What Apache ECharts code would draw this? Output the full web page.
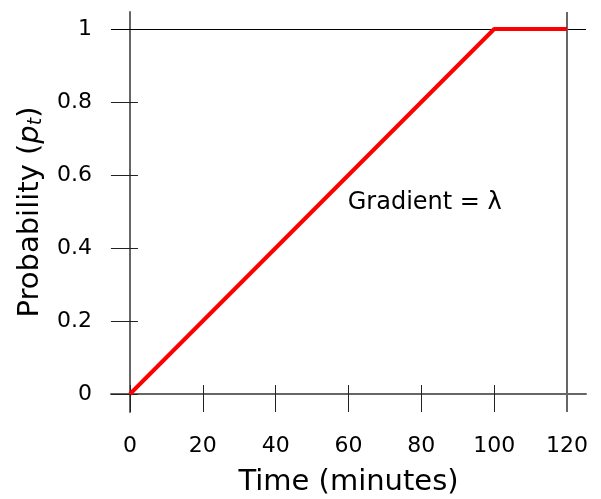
<!DOCTYPE html>
<html>
<head>
<meta charset="utf-8">
<script src="https://cdn.jsdelivr.net/npm/echarts@6/dist/echarts.min.js"></script>
<style>html,body{margin:0;padding:0;background:#fff;}#c{width:601px;height:499px;}</style>
</head>
<body>
<div id="c"></div>
<script>
// ---- data ----
const timeMinutes = [0, 100, 120];
const probability = [0, 1, 1];
const xTicks = [0, 20, 40, 60, 80, 100, 120];
const yTicks = [0, 0.2, 0.4, 0.6, 0.8, 1];
const xRange = [-5.2, 125.2];
const yRange = [-0.0493, 1.0466];
const annotationText = 'Gradient = λ';
const annotationAt = [59.8, 0.525];
const xTitle = 'Time (minutes)';

const FONT = 'DejaVu Sans';
const chart = echarts.init(document.getElementById('c'));
const seriesData = timeMinutes.map((t, i) => [t, probability[i]]);

const baseAxis = {
  type: 'value',
  splitLine: { show: false },
  axisLine: { show: true, onZero: true, lineStyle: { color: '#666', width: 2 } },
};

chart.setOption({
  animation: false,
  backgroundColor: '#fff',
  grid: { left: 111, right: 15, top: 12, bottom: 87, containLabel: false, outerBoundsMode: 'none' },
  xAxis: [
    Object.assign({}, baseAxis, {
      min: xRange[0], max: xRange[1], position: 'bottom',
      axisTick: { show: true, customValues: xTicks, length: 18, lineStyle: { color: '#222', width: 1 } },
      axisLabel: { show: true, customValues: xTicks, margin: 23, fontFamily: FONT, fontSize: 22, color: '#000' },
      name: xTitle, nameLocation: 'middle', nameGap: 56,
      nameTextStyle: { fontFamily: FONT, fontSize: 29, color: '#000' }
    }),
    Object.assign({}, baseAxis, {
      min: xRange[0], max: xRange[1], position: 'bottom',
      axisLine: { show: false, onZero: true },
      axisTick: { show: true, inside: true, customValues: xTicks, length: 9, lineStyle: { color: '#222', width: 1 } },
      axisLabel: { show: false }
    })
  ],
  yAxis: [
    Object.assign({}, baseAxis, {
      min: yRange[0], max: yRange[1], position: 'left',
      axisTick: { show: true, customValues: yTicks, length: 19, lineStyle: { color: '#222', width: 1 } },
      axisLabel: { show: true, customValues: yTicks, margin: 19, fontFamily: FONT, fontSize: 22, color: '#000' },
      name: '{a|Probability (}{i|p}{s|t}{a|)}', nameLocation: 'middle', nameGap: 65,
      nameTextStyle: {
        fontFamily: FONT, fontSize: 29, color: '#000',
        rich: {
          a: { fontFamily: FONT, fontSize: 29, color: '#000', lineHeight: 32 },
          i: { fontFamily: FONT, fontSize: 29, fontStyle: 'italic', color: '#000', lineHeight: 32 },
          s: { fontFamily: FONT, fontSize: 19, fontStyle: 'italic', color: '#000', lineHeight: 19, padding: [12, 0, 0, 0], verticalAlign: 'bottom' }
        }
      }
    }),
    Object.assign({}, baseAxis, {
      min: yRange[0], max: yRange[1], position: 'left',
      axisLine: { show: false, onZero: true },
      axisTick: { show: true, inside: true, customValues: yTicks, length: 8, lineStyle: { color: '#222', width: 1 } },
      axisLabel: { show: false }
    })
  ],
  series: [{
    type: 'line',
    xAxisIndex: 0, yAxisIndex: 0,
    data: seriesData,
    symbol: 'none',
    clip: false,
    lineStyle: { color: '#ff0000', width: 4 },
    z: 5,
    markLine: {
      silent: true, symbol: 'none', label: { show: false }, animation: false,
      data: [
        { yAxis: 1, lineStyle: { color: '#000', width: 1, type: 'solid' } },
        { xAxis: 120, lineStyle: { color: '#666', width: 2, type: 'solid' } }
      ],
      z: 1
    },
    markPoint: {
      silent: true, symbol: 'circle', symbolSize: 0,
      data: [{ coord: annotationAt }],
      label: {
        show: true, position: 'right', distance: 0, formatter: annotationText,
        fontFamily: FONT, fontSize: 24, color: '#000'
      }
    }
  }]
});
</script>
</body>
</html>
